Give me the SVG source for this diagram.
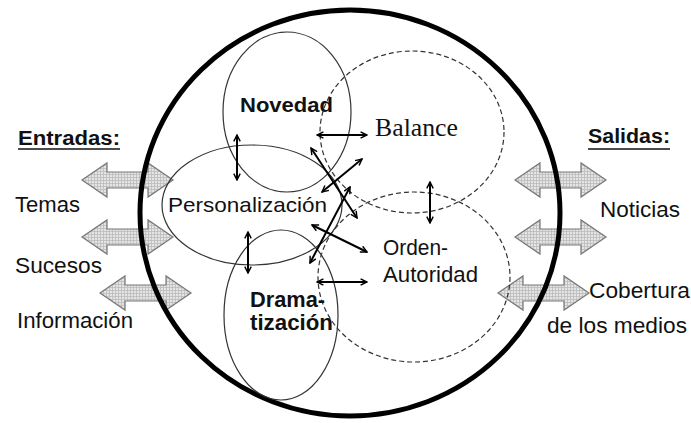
<svg xmlns="http://www.w3.org/2000/svg" width="691" height="423" viewBox="0 0 691 423">
<style>
.s{font-family:"Liberation Sans",Arial,sans-serif;fill:#111}
.b{font-weight:bold}
.e{fill:none;stroke:#333;stroke-width:1.2}
.d{fill:none;stroke:#333;stroke-width:1.2;stroke-dasharray:5,3}
.ar{fill:none;stroke:#000;stroke-width:2;marker-start:url(#h);marker-end:url(#h)}
.blk{fill:url(#hatch);stroke:#777;stroke-width:1.2}
</style>
<defs>
<pattern id="hatch" width="3" height="3" patternUnits="userSpaceOnUse">
<rect width="3" height="3" fill="#e4e4e4"/>
<path d="M0,0.5 H3 M0.5,0 V3" stroke="#bbb" stroke-width="0.8"/>
</pattern>
<marker id="h" viewBox="0 0 10 10" refX="9" refY="5" markerWidth="8" markerHeight="8" orient="auto-start-reverse" markerUnits="userSpaceOnUse">
<path d="M1,1 L9,5 L1,9" fill="none" stroke="#000" stroke-width="1.8"/>
</marker>
<path id="ba" d="M0,0 L25,-17 L25,-8 L66,-8 L66,-17 L91,0 L66,17 L66,8 L25,8 L25,17 Z"/>
</defs>
<rect width="691" height="423" fill="#fff"/>

<g id="entradas">
<use href="#ba" class="blk" x="82" y="180"/>
<use href="#ba" class="blk" x="82" y="237"/>
<use href="#ba" class="blk" x="100" y="293"/>
<text class="s b" x="18" y="145" font-size="20" textLength="102" lengthAdjust="spacingAndGlyphs">Entradas:</text>
<line x1="18" y1="149" x2="120" y2="149" stroke="#111" stroke-width="1.5"/>
<text class="s" x="15" y="212" font-size="22" textLength="65" lengthAdjust="spacingAndGlyphs">Temas</text>
<text class="s" x="15" y="273" font-size="22" textLength="87" lengthAdjust="spacingAndGlyphs">Sucesos</text>
<text class="s" x="17" y="328" font-size="22" textLength="116" lengthAdjust="spacingAndGlyphs">Información</text>
</g>

<g id="salidas">
<use href="#ba" class="blk" x="515" y="180"/>
<use href="#ba" class="blk" x="515" y="237"/>
<use href="#ba" class="blk" x="498" y="293"/>
<text class="s b" x="588" y="143" font-size="20" textLength="82" lengthAdjust="spacingAndGlyphs">Salidas:</text>
<line x1="588" y1="149" x2="670" y2="149" stroke="#111" stroke-width="1.5"/>
<text class="s" x="600" y="217" font-size="22" textLength="80" lengthAdjust="spacingAndGlyphs">Noticias</text>
<text class="s" x="589" y="298" font-size="22" textLength="101" lengthAdjust="spacingAndGlyphs">Cobertura</text>
<text class="s" x="547" y="333" font-size="22" textLength="140" lengthAdjust="spacingAndGlyphs">de los medios</text>
</g>

<g id="sistema">
<ellipse cx="350" cy="213" rx="210" ry="203" fill="none" stroke="#000" stroke-width="5"/>
</g>

<g id="novedad">
<ellipse class="e" cx="287" cy="112" rx="64" ry="80"/>
<text class="s b" x="240" y="112" font-size="21" textLength="93" lengthAdjust="spacingAndGlyphs">Novedad</text>
</g>
<g id="balance">
<ellipse class="d" cx="412" cy="132" rx="92" ry="81"/>
<text x="375" y="136" font-size="26" textLength="83" lengthAdjust="spacingAndGlyphs" font-family="'Liberation Serif','Times New Roman',serif" fill="#111">Balance</text>
</g>
<g id="personalizacion">
<ellipse class="e" cx="252" cy="205" rx="90" ry="60"/>
<text class="s" x="168" y="212" font-size="21" textLength="159" lengthAdjust="spacingAndGlyphs">Personalización</text>
</g>
<g id="orden">
<ellipse class="d" cx="414" cy="277" rx="96" ry="85"/>
<text class="s" x="383" y="255" font-size="22" textLength="65" lengthAdjust="spacingAndGlyphs">Orden-</text>
<text class="s" x="383" y="282" font-size="22" textLength="95" lengthAdjust="spacingAndGlyphs">Autoridad</text>
</g>
<g id="dramatizacion">
<ellipse class="e" cx="281" cy="315" rx="57" ry="85"/>
<text class="s b" x="250" y="307" font-size="22" textLength="75" lengthAdjust="spacingAndGlyphs">Drama-</text>
<text class="s b" x="250" y="330" font-size="22" textLength="83" lengthAdjust="spacingAndGlyphs">tización</text>
</g>

<g id="connectors">
<line class="ar" x1="237" y1="135" x2="237" y2="180"/>
<line class="ar" x1="317" y1="135" x2="367" y2="135"/>
<line class="ar" x1="311" y1="148" x2="357" y2="218"/>
<line class="ar" x1="322" y1="192" x2="362" y2="159"/>
<line class="ar" x1="310" y1="263" x2="350" y2="187"/>
<line class="ar" x1="312" y1="225" x2="367" y2="252"/>
<line class="ar" x1="248" y1="232" x2="248" y2="273"/>
<line class="ar" x1="317" y1="282" x2="367" y2="282"/>
<line class="ar" x1="430" y1="182" x2="430" y2="223"/>
</g>
</svg>
